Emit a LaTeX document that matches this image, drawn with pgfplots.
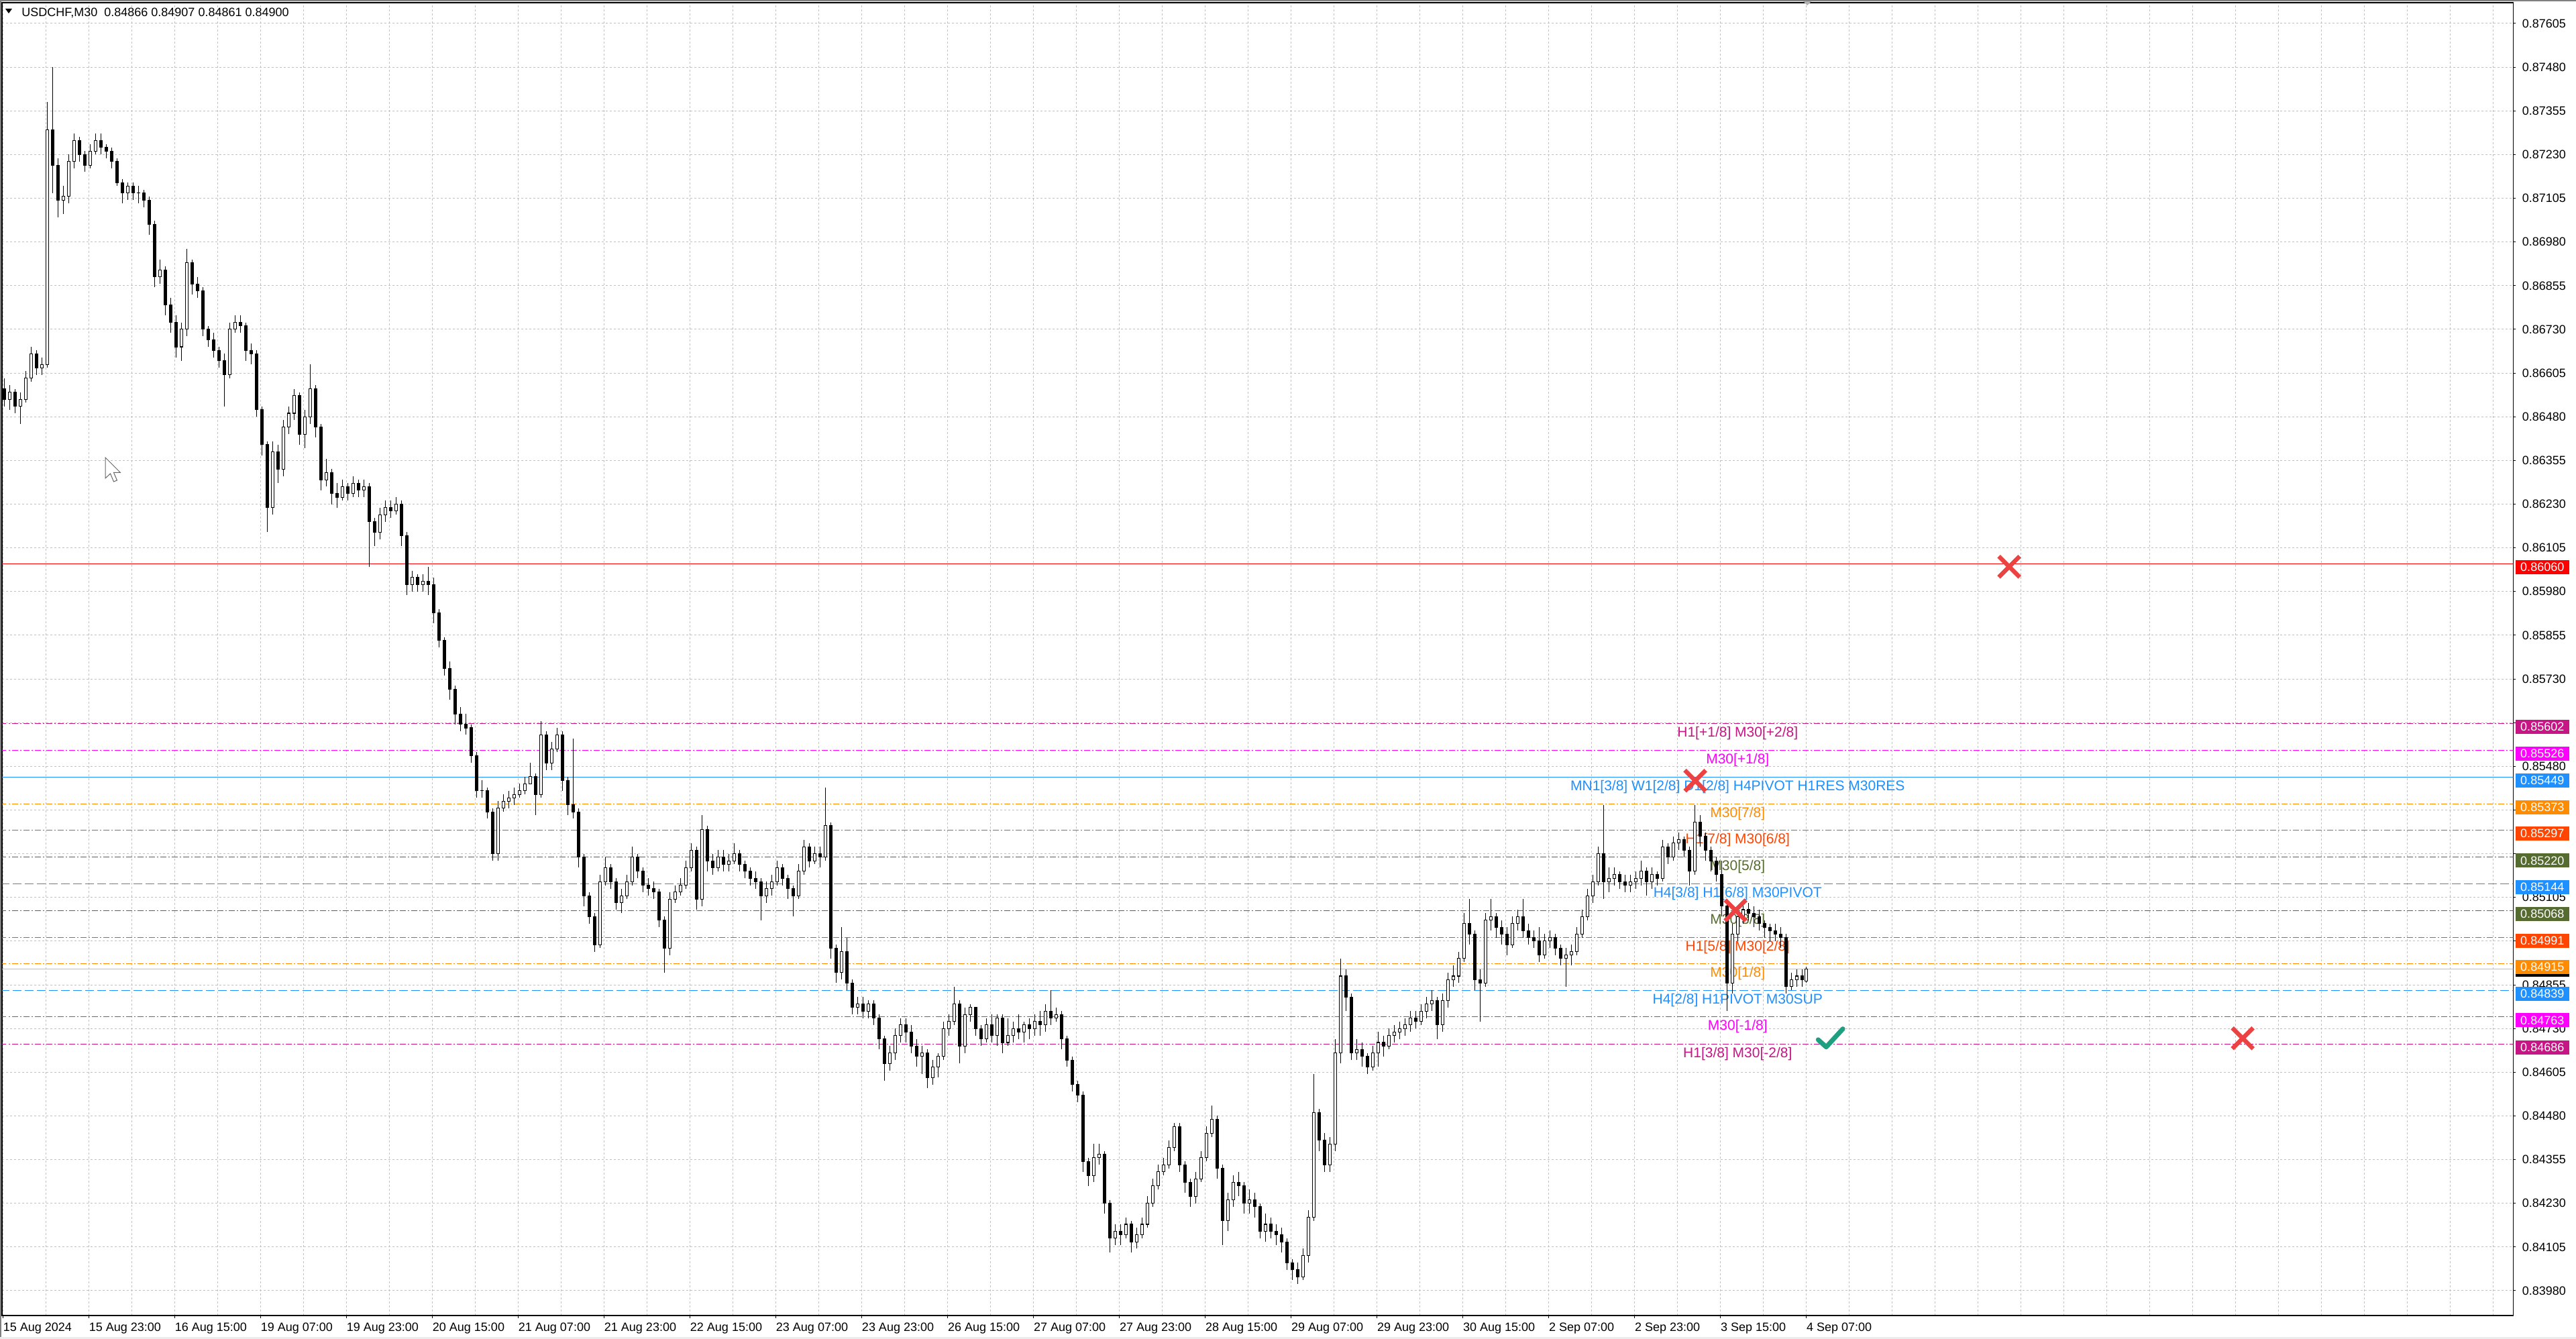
\documentclass[border=0pt]{standalone}
\usepackage{pgfplots}
\usepackage{pgfplotstable}
\pgfplotsset{compat=1.18}
\usepackage{fontspec}
\setmainfont{Liberation Sans}

\definecolor{mvr}{HTML}{C71585}
\definecolor{mag}{HTML}{FF00FF}
\definecolor{dblue}{HTML}{1E90FF}
\definecolor{dorange}{HTML}{FF8C00}
\definecolor{ored}{HTML}{FF4500}
\definecolor{olv}{HTML}{556B2F}
\definecolor{gridc}{HTML}{C0C0C0}
\definecolor{xred}{RGB}{236,66,66}
\definecolor{chk}{RGB}{30,160,128}

% USDCHF M30, one candle per two bars (x in bars)
\pgfplotstableread{
x o h l c
0.5 0.8656 0.8659 0.8651 0.8653
2.5 0.8653 0.8657 0.8650 0.8655
4.5 0.8655 0.8656 0.8649 0.8651
6.5 0.8651 0.8655 0.8646 0.8653
8.5 0.8653 0.8661 0.8652 0.8659
10.5 0.8659 0.8668 0.8658 0.8666
12.5 0.8666 0.8667 0.8660 0.8662
14.5 0.8662 0.8665 0.8660 0.8663
16.5 0.8663 0.8738 0.8662 0.8730
18.5 0.8730 0.8748 0.8712 0.8720
20.5 0.8720 0.8722 0.8705 0.8710
22.5 0.8710 0.8714 0.8706 0.8711
24.5 0.8711 0.8723 0.8709 0.8721
26.5 0.8721 0.8729 0.8719 0.8727
28.5 0.8727 0.8728 0.8721 0.8723
30.5 0.8723 0.8724 0.8718 0.8720
32.5 0.8720 0.8726 0.8719 0.8724
34.5 0.8724 0.8729 0.8723 0.8727
36.5 0.8727 0.8729 0.8723 0.8725
38.5 0.8725 0.8726 0.8722 0.8724
40.5 0.8724 0.8725 0.8719 0.8721
42.5 0.8721 0.8722 0.8714 0.8715
44.5 0.8715 0.8716 0.8709 0.8712
46.5 0.8712 0.8715 0.8710 0.8714
48.5 0.8714 0.8715 0.8710 0.8712
50.5 0.8712 0.8714 0.8709 0.8712
52.5 0.8712 0.8713 0.8708 0.8710
54.5 0.8710 0.8711 0.8700 0.8703
56.5 0.8703 0.8704 0.8685 0.8688
58.5 0.8688 0.8693 0.8686 0.8690
60.5 0.8690 0.8691 0.8677 0.8680
62.5 0.8680 0.8682 0.8672 0.8675
64.5 0.8675 0.8677 0.8665 0.8668
66.5 0.8668 0.8675 0.8664 0.8673
68.5 0.8673 0.8696 0.8671 0.8692
70.5 0.8692 0.8693 0.8683 0.8686
72.5 0.8686 0.8688 0.8682 0.8684
74.5 0.8684 0.8685 0.8671 0.8673
76.5 0.8673 0.8674 0.8668 0.8670
78.5 0.8670 0.8672 0.8665 0.8667
80.5 0.8667 0.8668 0.8662 0.8664
82.5 0.8664 0.8666 0.8651 0.8660
84.5 0.8660 0.8675 0.8659 0.8673
86.5 0.8673 0.8677 0.8672 0.8675
88.5 0.8675 0.8677 0.8672 0.8674
90.5 0.8674 0.8675 0.8664 0.8667
92.5 0.8667 0.8669 0.8663 0.8666
94.5 0.8666 0.8667 0.8648 0.8650
96.5 0.8650 0.8651 0.8637 0.8640
98.5 0.8640 0.8641 0.8615 0.8622
100.5 0.8622 0.8641 0.8620 0.8638
102.5 0.8638 0.8640 0.8629 0.8633
104.5 0.8633 0.8647 0.8631 0.8645
106.5 0.8645 0.8651 0.8643 0.8649
108.5 0.8649 0.8656 0.8647 0.8654
110.5 0.8654 0.8655 0.8640 0.8643
112.5 0.8643 0.8650 0.8639 0.8648
114.5 0.8648 0.8663 0.8646 0.8656
116.5 0.8656 0.8657 0.8642 0.8645
118.5 0.8645 0.8646 0.8627 0.8630
120.5 0.8630 0.8636 0.8628 0.8632
122.5 0.8632 0.8633 0.8623 0.8626
124.5 0.8626 0.8629 0.8622 0.8625
126.5 0.8625 0.8630 0.8624 0.8628
128.5 0.8628 0.8629 0.8624 0.8626
130.5 0.8626 0.8631 0.8625 0.8629
132.5 0.8629 0.8630 0.8625 0.8627
134.5 0.8627 0.8630 0.8625 0.8628
136.5 0.8628 0.8629 0.8605 0.8618
138.5 0.8618 0.8619 0.8611 0.8615
140.5 0.8615 0.8622 0.8613 0.8620
142.5 0.8620 0.8624 0.8618 0.8622
144.5 0.8622 0.8624 0.8619 0.8621
146.5 0.8621 0.8625 0.8620 0.8623
148.5 0.8623 0.8624 0.8611 0.8614
150.5 0.8614 0.8615 0.8597 0.8600
152.5 0.8600 0.8604 0.8598 0.8602
154.5 0.8602 0.8603 0.8598 0.8600
156.5 0.8600 0.8603 0.8598 0.8601
158.5 0.8601 0.8605 0.8597 0.8600
160.5 0.8600 0.8602 0.8589 0.8592
162.5 0.8592 0.8593 0.8582 0.8584
164.5 0.8584 0.8585 0.8574 0.8576
166.5 0.8576 0.8578 0.8567 0.8570
168.5 0.8570 0.8571 0.8560 0.8563
170.5 0.8563 0.8565 0.8558 0.8560
172.5 0.8560 0.8563 0.8557 0.8559
174.5 0.8559 0.8560 0.8549 0.8551
176.5 0.8551 0.8552 0.8539 0.8541
178.5 0.8541 0.8544 0.8539 0.8541
180.5 0.8541 0.8542 0.8533 0.8535
182.5 0.8535 0.8536 0.8521 0.8523
184.5 0.8523 0.8538 0.8521 0.8536
186.5 0.8536 0.8540 0.8535 0.8538
188.5 0.8538 0.8541 0.8536 0.8539
190.5 0.8539 0.8542 0.8537 0.8540
192.5 0.8540 0.8543 0.8539 0.8541
194.5 0.8541 0.8545 0.8540 0.8543
196.5 0.8543 0.8549 0.8543 0.8545
198.5 0.8545 0.8546 0.8534 0.8540
200.5 0.8540 0.8561 0.8539 0.8557
202.5 0.8557 0.8558 0.8547 0.8549
204.5 0.8549 0.8555 0.8547 0.8553
206.5 0.8553 0.8559 0.8552 0.8557
208.5 0.8557 0.8558 0.8541 0.8544
210.5 0.8544 0.8545 0.8534 0.8537
212.5 0.8537 0.8556 0.8533 0.8535
214.5 0.8535 0.8536 0.8519 0.8522
216.5 0.8522 0.8523 0.8508 0.8511
218.5 0.8511 0.8512 0.8503 0.8505
220.5 0.8505 0.8506 0.8495 0.8497
222.5 0.8497 0.8517 0.8496 0.8515
224.5 0.8515 0.8522 0.8514 0.8519
226.5 0.8519 0.8520 0.8513 0.8515
228.5 0.8515 0.8516 0.8507 0.8509
230.5 0.8509 0.8513 0.8506 0.8511
232.5 0.8511 0.8517 0.8510 0.8515
234.5 0.8515 0.8525 0.8514 0.8522
236.5 0.8522 0.8523 0.8516 0.8518
238.5 0.8518 0.8519 0.8512 0.8514
240.5 0.8514 0.8516 0.8511 0.8513
242.5 0.8513 0.8515 0.8510 0.8512
244.5 0.8512 0.8513 0.8502 0.8504
246.5 0.8504 0.8505 0.8489 0.8496
248.5 0.8496 0.8512 0.8494 0.8510
250.5 0.8510 0.8514 0.8509 0.8512
252.5 0.8512 0.8516 0.8511 0.8514
254.5 0.8514 0.8521 0.8513 0.8519
256.5 0.8519 0.8526 0.8518 0.8524
258.5 0.8524 0.8525 0.8507 0.8510
260.5 0.8510 0.8534 0.8508 0.8530
262.5 0.8530 0.8531 0.8518 0.8521
264.5 0.8521 0.8523 0.8517 0.8519
266.5 0.8519 0.8524 0.8518 0.8522
268.5 0.8522 0.8524 0.8518 0.8520
270.5 0.8520 0.8523 0.8518 0.8521
272.5 0.8521 0.8526 0.8520 0.8523
274.5 0.8523 0.8524 0.8518 0.8520
276.5 0.8520 0.8521 0.8516 0.8518
278.5 0.8518 0.8519 0.8514 0.8516
280.5 0.8516 0.8518 0.8513 0.8515
282.5 0.8515 0.8516 0.8504 0.8511
284.5 0.8511 0.8515 0.8509 0.8513
286.5 0.8513 0.8517 0.8511 0.8515
288.5 0.8515 0.8521 0.8514 0.8519
290.5 0.8519 0.8520 0.8514 0.8516
292.5 0.8516 0.8517 0.8510 0.8513
294.5 0.8513 0.8514 0.8505 0.8511
296.5 0.8511 0.8520 0.8510 0.8518
298.5 0.8518 0.8527 0.8517 0.8525
300.5 0.8525 0.8526 0.8519 0.8521
302.5 0.8521 0.8525 0.8520 0.8523
304.5 0.8523 0.8525 0.8519 0.8522
306.5 0.8522 0.8542 0.8521 0.8531
308.5 0.8531 0.8532 0.8493 0.8496
310.5 0.8496 0.8497 0.8486 0.8489
312.5 0.8489 0.8502 0.8487 0.8495
314.5 0.8495 0.8499 0.8484 0.8486
316.5 0.8486 0.8487 0.8477 0.8479
318.5 0.8479 0.8482 0.8477 0.8480
320.5 0.8480 0.8482 0.8476 0.8478
322.5 0.8478 0.8481 0.8476 0.8480
324.5 0.8480 0.8481 0.8474 0.8476
326.5 0.8476 0.8477 0.8467 0.8470
328.5 0.8470 0.8471 0.8458 0.8463
330.5 0.8463 0.8468 0.8461 0.8466
332.5 0.8466 0.8473 0.8464 0.8471
334.5 0.8471 0.8476 0.8469 0.8474
336.5 0.8474 0.8476 0.8469 0.8472
338.5 0.8472 0.8474 0.8466 0.8468
340.5 0.8468 0.8470 0.8462 0.8465
342.5 0.8465 0.8468 0.8460 0.8466
344.5 0.8466 0.8467 0.8456 0.8459
346.5 0.8459 0.8464 0.8457 0.8462
348.5 0.8462 0.8466 0.8459 0.8465
350.5 0.8465 0.8475 0.8464 0.8473
352.5 0.8473 0.8477 0.8471 0.8475
354.5 0.8475 0.8485 0.8474 0.8480
356.5 0.8480 0.8481 0.8463 0.8468
358.5 0.8468 0.8479 0.8466 0.8477
360.5 0.8477 0.8480 0.8475 0.8479
362.5 0.8479 0.8479 0.8471 0.8473
364.5 0.8473 0.8474 0.8468 0.8470
366.5 0.8470 0.8476 0.8469 0.8474
368.5 0.8474 0.8477 0.8469 0.8471
370.5 0.8471 0.8477 0.8468 0.8476
372.5 0.8476 0.8477 0.8466 0.8469
374.5 0.8469 0.8476 0.8468 0.8471
376.5 0.8471 0.8475 0.8469 0.8473
378.5 0.8473 0.8477 0.8470 0.8472
380.5 0.8472 0.8475 0.8469 0.8474
382.5 0.8474 0.8476 0.8470 0.8473
384.5 0.8473 0.8477 0.8471 0.8475
386.5 0.8475 0.8478 0.8471 0.8474
388.5 0.8474 0.8480 0.8472 0.8478
390.5 0.8478 0.8484 0.8474 0.8476
392.5 0.8476 0.8479 0.8475 0.8477
394.5 0.8477 0.8478 0.8467 0.8470
396.5 0.8470 0.8471 0.8462 0.8464
398.5 0.8464 0.8465 0.8455 0.8457
400.5 0.8457 0.8458 0.8452 0.8454
402.5 0.8454 0.8455 0.8432 0.8435
404.5 0.8435 0.8436 0.8428 0.8431
406.5 0.8431 0.8440 0.8429 0.8436
408.5 0.8436 0.8440 0.8434 0.8437
410.5 0.8437 0.8438 0.8420 0.8423
412.5 0.8423 0.8424 0.8409 0.8413
414.5 0.8413 0.8417 0.8411 0.8415
416.5 0.8415 0.8417 0.8411 0.8414
418.5 0.8414 0.8419 0.8413 0.8417
420.5 0.8417 0.8418 0.8409 0.8412
422.5 0.8412 0.8416 0.8410 0.8414
424.5 0.8414 0.8419 0.8413 0.8417
426.5 0.8417 0.8425 0.8416 0.8423
428.5 0.8423 0.8430 0.8422 0.8428
430.5 0.8428 0.8434 0.8427 0.8432
432.5 0.8432 0.8436 0.8431 0.8434
434.5 0.8434 0.8441 0.8433 0.8439
436.5 0.8439 0.8446 0.8438 0.8445
438.5 0.8445 0.8446 0.8432 0.8434
440.5 0.8434 0.8435 0.8426 0.8429
442.5 0.8429 0.8430 0.8422 0.8425
444.5 0.8425 0.8432 0.8423 0.8430
446.5 0.8430 0.8438 0.8429 0.8436
448.5 0.8436 0.8445 0.8435 0.8443
450.5 0.8443 0.8451 0.8442 0.8447
452.5 0.8447 0.8448 0.8430 0.8433
454.5 0.8433 0.8434 0.8411 0.8418
456.5 0.8418 0.8426 0.8415 0.8424
458.5 0.8424 0.8431 0.8422 0.8429
460.5 0.8429 0.8432 0.8425 0.8428
462.5 0.8428 0.8429 0.8420 0.8423
464.5 0.8423 0.8427 0.8420 0.8424
466.5 0.8424 0.8426 0.8419 0.8422
468.5 0.8422 0.8423 0.8413 0.8415
470.5 0.8415 0.8420 0.8412 0.8417
472.5 0.8417 0.8419 0.8413 0.8415
474.5 0.8415 0.8417 0.8411 0.8414
476.5 0.8414 0.8416 0.8409 0.8412
478.5 0.8412 0.8413 0.8404 0.8406
480.5 0.8406 0.8407 0.8401 0.8404
482.5 0.8404 0.8406 0.8400 0.8402
484.5 0.8402 0.8410 0.8401 0.8408
486.5 0.8408 0.8421 0.8406 0.8419
488.5 0.8419 0.8460 0.8418 0.8449
490.5 0.8449 0.8450 0.8438 0.8441
492.5 0.8441 0.8443 0.8432 0.8434
494.5 0.8434 0.8442 0.8432 0.8440
496.5 0.8440 0.8470 0.8438 0.8466
498.5 0.8466 0.8493 0.8463 0.8488
500.5 0.8488 0.8490 0.8478 0.8482
502.5 0.8482 0.8483 0.8464 0.8466
504.5 0.8466 0.8470 0.8464 0.8467
506.5 0.8467 0.8469 0.8462 0.8465
508.5 0.8465 0.8466 0.8460 0.8462
510.5 0.8462 0.8468 0.8461 0.8466
512.5 0.8466 0.8472 0.8462 0.8469
514.5 0.8469 0.8471 0.8465 0.8468
516.5 0.8468 0.8473 0.8467 0.8471
518.5 0.8471 0.8474 0.8469 0.8472
520.5 0.8472 0.8475 0.8470 0.8473
522.5 0.8473 0.8476 0.8471 0.8474
524.5 0.8474 0.8478 0.8472 0.8476
526.5 0.8476 0.8478 0.8473 0.8475
528.5 0.8475 0.8480 0.8474 0.8478
530.5 0.8478 0.8482 0.8476 0.8480
532.5 0.8480 0.8484 0.8478 0.8481
534.5 0.8481 0.8482 0.8470 0.8474
536.5 0.8474 0.8483 0.8472 0.8481
538.5 0.8481 0.8489 0.8479 0.8487
540.5 0.8487 0.8491 0.8485 0.8488
542.5 0.8488 0.8495 0.8486 0.8493
544.5 0.8493 0.8506 0.8492 0.8503
546.5 0.8503 0.8510 0.8497 0.8500
548.5 0.8500 0.8501 0.8484 0.8487
550.5 0.8487 0.8490 0.8475 0.8486
552.5 0.8486 0.8506 0.8485 0.8504
554.5 0.8504 0.8510 0.8501 0.8505
556.5 0.8505 0.8506 0.8499 0.8502
558.5 0.8502 0.8504 0.8497 0.8500
560.5 0.8500 0.8502 0.8494 0.8497
562.5 0.8497 0.8505 0.8496 0.8503
564.5 0.8503 0.8507 0.8501 0.8505
566.5 0.8505 0.8510 0.8499 0.8501
568.5 0.8501 0.8503 0.8497 0.8499
570.5 0.8499 0.8501 0.8496 0.8498
572.5 0.8498 0.8502 0.8492 0.8494
574.5 0.8494 0.8500 0.8493 0.8498
576.5 0.8498 0.8501 0.8496 0.8499
578.5 0.8499 0.8500 0.8494 0.8496
580.5 0.8496 0.8497 0.8491 0.8493
582.5 0.8493 0.8496 0.8485 0.8494
584.5 0.8494 0.8497 0.8491 0.8495
586.5 0.8495 0.8502 0.8494 0.8500
588.5 0.8500 0.8507 0.8499 0.8505
590.5 0.8505 0.8513 0.8504 0.8511
592.5 0.8511 0.8517 0.8509 0.8515
594.5 0.8515 0.8525 0.8514 0.8523
596.5 0.8523 0.8537 0.8510 0.8515
598.5 0.8515 0.8519 0.8512 0.8516
600.5 0.8516 0.8519 0.8514 0.8517
602.5 0.8517 0.8518 0.8513 0.8515
604.5 0.8515 0.8517 0.8512 0.8514
606.5 0.8514 0.8517 0.8512 0.8515
608.5 0.8515 0.8518 0.8513 0.8516
610.5 0.8516 0.8521 0.8514 0.8518
612.5 0.8518 0.8519 0.8511 0.8515
614.5 0.8515 0.8519 0.8513 0.8517
616.5 0.8517 0.8518 0.8514 0.8516
618.5 0.8516 0.8527 0.8515 0.8525
620.5 0.8525 0.8526 0.8520 0.8522
622.5 0.8522 0.8528 0.8521 0.8526
624.5 0.8526 0.8529 0.8524 0.8527
626.5 0.8527 0.8528 0.8522 0.8524
628.5 0.8524 0.8525 0.8514 0.8518
630.5 0.8518 0.8537 0.8517 0.8532
632.5 0.8532 0.8534 0.8525 0.8528
634.5 0.8528 0.8529 0.8521 0.8524
636.5 0.8524 0.8525 0.8518 0.8521
638.5 0.8521 0.8522 0.8515 0.8517
640.5 0.8517 0.8521 0.8505 0.8508
642.5 0.8508 0.8509 0.8478 0.8486
644.5 0.8486 0.8503 0.8483 0.8500
646.5 0.8500 0.8507 0.8498 0.8505
648.5 0.8505 0.8509 0.8503 0.8507
650.5 0.8507 0.8509 0.8504 0.8506
652.5 0.8506 0.8508 0.8502 0.8505
654.5 0.8505 0.8507 0.8501 0.8503
656.5 0.8503 0.8504 0.8499 0.8502
658.5 0.8502 0.8503 0.8498 0.8501
660.5 0.8501 0.8503 0.8498 0.8500
662.5 0.8500 0.8502 0.8496 0.8499
664.5 0.8499 0.8500 0.8483 0.8485
666.5 0.8485 0.8489 0.8484 0.8487
668.5 0.8487 0.8490 0.8485 0.8488
670.5 0.8488 0.8490 0.8485 0.8487
672 0.84866 0.84907 0.84861 0.84900
}\candles

\pgfplotsset{
  dd/.style={line width=0.5pt, dash pattern=on 4.5pt off 1.5pt on 1pt off 1.5pt},
  ld/.style={line width=0.5pt, dash pattern=on 6.5pt off 2.5pt},
  ebar/.style 2 args={draw=none, mark=none, forget plot,
    error bars/y dir=plus, error bars/y explicit, error bars/error mark=none,
    error bars/error bar style={draw=#1, solid, line width=#2}},
}
\newcommand\tfont{\fontsize{9}{10}\selectfont}
\newcommand\lfont{\fontsize{10.5}{12}\selectfont}
\newcommand\lvl[5]{%
  \addplot[#2, #3, forget plot] coordinates {(-1,#1) (940,#1)};
  \node[text=#2, anchor=base, yshift=-10pt, font=\lfont, inner sep=0pt] at (axis cs:646.4,#1) {#4};
  \coordinate (#5) at (axis cs:935.4,#1);
}
\newcommand\pbox[3]{\node[fill=#2, text=white, minimum width=40pt, minimum height=10.5pt,
  inner sep=0pt, anchor=west, font=\tfont] at ([xshift=1.5pt,yshift=-2.5pt]#1) {#3};}

\begin{document}
\begin{tikzpicture}
\path[use as bounding box, fill=white] (0,0) rectangle (1920pt,998pt);
\begin{axis}[
  at={(1.5pt,17.5pt)}, anchor=south west,
  scale only axis, width=1871.55pt, height=978.5pt,
  xmin=-0.375, xmax=935.4, ymin=0.83909, ymax=0.876645,
  axis line style={line width=0.6pt, black},
  tick align=outside, major tick length=2pt, minor tick length=0pt,
  tick style={black, line width=0.5pt},
  xtick pos=left, ytick pos=right, yticklabel pos=right,
  xtick={0,32,...,672},
  xticklabels={15 Aug 2024,15 Aug 23:00,16 Aug 15:00,19 Aug 07:00,19 Aug 23:00,
    20 Aug 15:00,21 Aug 07:00,21 Aug 23:00,22 Aug 15:00,23 Aug 07:00,23 Aug 23:00,
    26 Aug 15:00,27 Aug 07:00,27 Aug 23:00,28 Aug 15:00,29 Aug 07:00,29 Aug 23:00,
    30 Aug 15:00,2 Sep 07:00,2 Sep 23:00,3 Sep 15:00,4 Sep 07:00},
  minor xtick={0,16,...,928},
  xminorgrids=true, xmajorgrids=false, ymajorgrids=true,
  major grid style={gridc, line width=0.5pt, dash pattern=on 1.5pt off 1.5pt},
  minor grid style={gridc, line width=0.5pt, dash pattern=on 1.5pt off 1.5pt},
  ytick={0.8398,0.84105,0.8423,0.84355,0.8448,0.84605,0.8473,0.84855,0.8498,0.85105,
    0.8523,0.85355,0.8548,0.85605,0.8573,0.85855,0.8598,0.86105,0.8623,0.86355,
    0.8648,0.86605,0.8673,0.86855,0.8698,0.87105,0.8723,0.87355,0.8748,0.87605},
  % labels hidden behind the level boxes are left out
  yticklabels={0.83980,0.84105,0.84230,0.84355,0.84480,0.84605,0.84730,0.84855,,0.85105,
    ,,0.85480,,0.85730,0.85855,0.85980,0.86105,0.86230,0.86355,
    0.86480,0.86605,0.86730,0.86855,0.86980,0.87105,0.87230,0.87355,0.87480,0.87605},
  yticklabel style={anchor=west, inner sep=0pt, xshift=4.5pt, font=\tfont},
  xticklabel style={anchor=base west, inner sep=0pt, yshift=-10pt, font=\tfont},
]
% levels
\addplot[red, line width=0.5pt, forget plot] coordinates {(-1,0.8606) (940,0.8606)};
\coordinate (b0) at (axis cs:935.4,0.8606);
\addplot[gridc, line width=0.5pt, forget plot] coordinates {(-1,0.849) (940,0.849)};
\coordinate (bid) at (axis cs:935.4,0.849);
\lvl{0.85602}{mvr}{dd}{H1[+1/8] M30[+2/8]}{b1}
\lvl{0.85526}{mag}{dd}{M30[+1/8]}{b2}
\lvl{0.85449}{dblue}{line width=0.9pt}{MN1[3/8] W1[2/8] D1[2/8] H4PIVOT H1RES M30RES}{b3}
\lvl{0.85373}{dorange}{dd}{M30[7/8]}{b4}
\lvl{0.85297}{ored}{dd}{H1[7/8] M30[6/8]}{b5}
\lvl{0.85220}{olv}{dd}{M30[5/8]}{b6}
\lvl{0.85144}{dblue}{ld}{H4[3/8] H1[6/8] M30PIVOT}{b7}
\lvl{0.85068}{olv}{dd}{M30[3/8]}{b8}
\lvl{0.84991}{ored}{dd}{H1[5/8] M30[2/8]}{b9}
\lvl{0.84915}{dorange}{dd}{M30[1/8]}{b10}
\lvl{0.84839}{dblue}{ld}{H4[2/8] H1PIVOT M30SUP}{b11}
\lvl{0.84763}{mag}{dd}{M30[-1/8]}{b12}
\lvl{0.84686}{mvr}{dd}{H1[3/8] M30[-2/8]}{b13}
% candles: wicks, black bodies, white inside of rising candles
\addplot[ebar={black}{0.5pt}] table[x=x, y=l, y error plus expr={\thisrow{h}-\thisrow{l}}] {\candles};
\addplot[ebar={black}{2.8pt}] table[x=x, y expr={min(\thisrow{o},\thisrow{c})-0.00001},
  y error plus expr={abs(\thisrow{c}-\thisrow{o})+0.00002}] {\candles};
\addplot[ebar={white}{1.8pt}] table[x=x, y expr={\thisrow{o}+0.00001},
  y error plus expr={max(\thisrow{c}-\thisrow{o}-0.00002,0)}] {\candles};
% signal marks
\addplot[only marks, mark=x, mark size=11pt, xred, line width=3.2pt, forget plot]
  coordinates {(630.6,0.85439) (645.6,0.85068) (747.6,0.86051) (834.6,0.84702)};
\addplot[chk, line width=3.5pt, line cap=round, line join=round, forget plot]
  coordinates {(676.4,0.84698) (679.4,0.84677) (685.6,0.84729)};
\end{axis}
% price boxes on the right scale (bid box mostly hidden under 0.84915)
\node[fill=black, minimum width=40pt, minimum height=10.5pt, inner sep=0pt, anchor=west]
  at ([xshift=1.5pt,yshift=-0.6pt]bid) {};
\pbox{b0}{red}{0.86060}
\pbox{b1}{mvr}{0.85602}
\pbox{b2}{mag}{0.85526}
\pbox{b3}{dblue}{0.85449}
\pbox{b4}{dorange}{0.85373}
\pbox{b5}{ored}{0.85297}
\pbox{b6}{olv}{0.85220}
\pbox{b7}{dblue}{0.85144}
\pbox{b8}{olv}{0.85068}
\pbox{b9}{ored}{0.84991}
\pbox{b10}{dorange}{0.84915}
\pbox{b11}{dblue}{0.84839}
\pbox{b12}{mag}{0.84763}
\pbox{b13}{mvr}{0.84686}
% header
\fill[black] (4pt,991.5pt) -- (9pt,991.5pt) -- (6.5pt,988pt) -- cycle;
\node[anchor=base west, inner sep=0pt, font=\tfont] at (16pt,985.5pt)
  {USDCHF,M30\ \ 0.84866 0.84907 0.84861 0.84900};
\fill[gray!60] (1343pt,998pt) -- (1351pt,998pt) -- (1347pt,994pt) -- cycle;
% frame
\draw[gray, line width=0.8pt] (0.4pt,0) -- (0.4pt,997.6pt) -- (1920pt,997.6pt);
\fill[gray!15] (0,0) rectangle (1920pt,1.5pt);
% mouse pointer
\draw[gray!80!black, fill=white, line width=0.5pt, shift={(78.5pt,657pt)}]
  (0,0) -- (0,-15.5pt) -- (3.75pt,-12pt) -- (6.25pt,-18pt) -- (8.75pt,-17pt)
  -- (6.25pt,-11.25pt) -- (11.25pt,-11.25pt) -- cycle;
\end{tikzpicture}
\end{document}
